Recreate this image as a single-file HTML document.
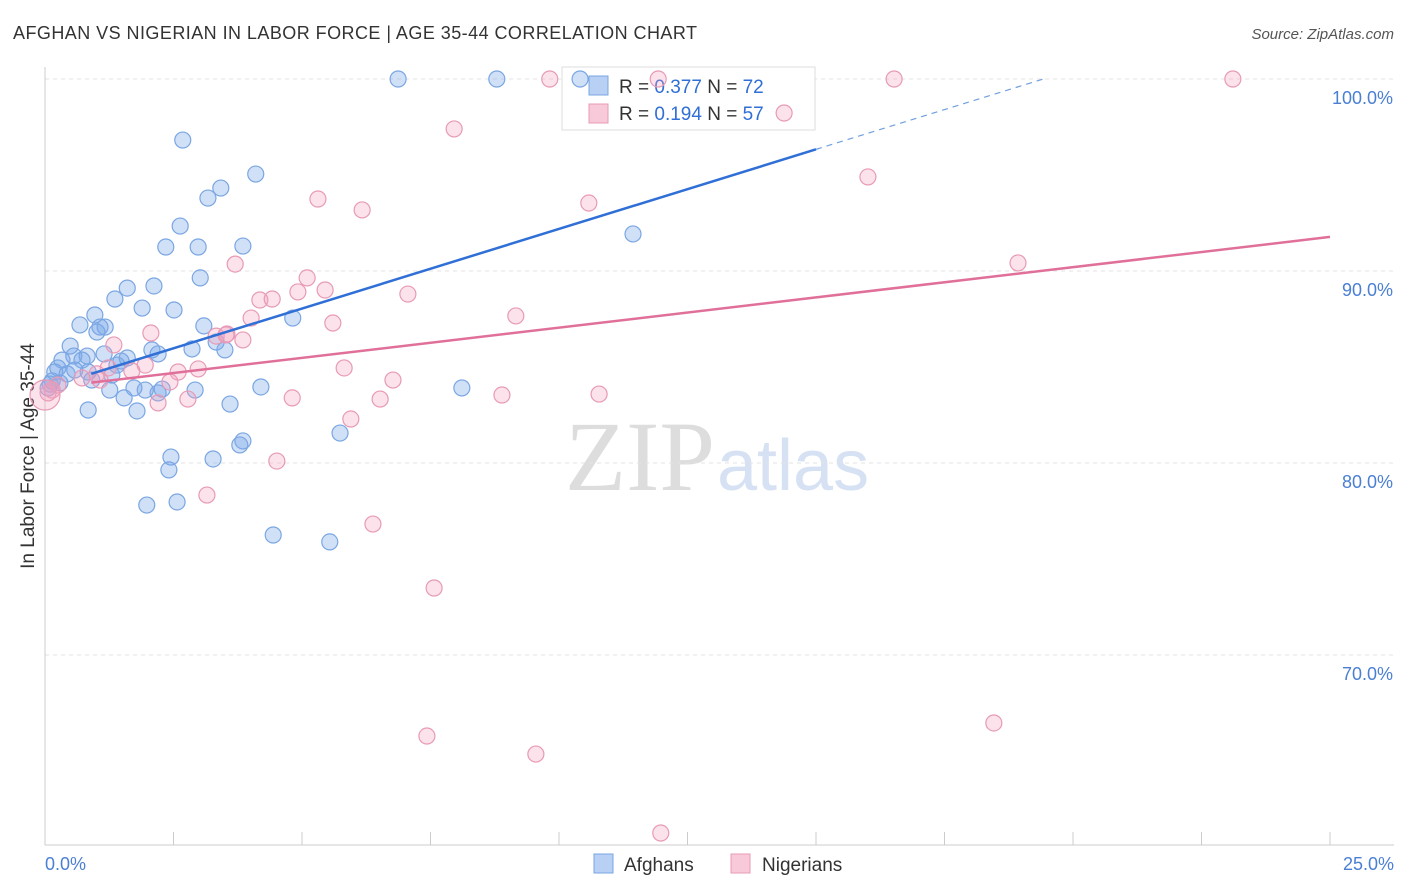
<!DOCTYPE html>
<html><head><meta charset="utf-8"><style>
body{margin:0;background:#fff;font-family:"Liberation Sans",sans-serif;}
svg{display:block}
</style></head><body>
<svg width="1406" height="892" id="chart">
<text x="13" y="39" font-size="18" fill="#333" textLength="684">AFGHAN VS NIGERIAN IN LABOR FORCE | AGE 35-44 CORRELATION CHART</text>
<text x="1394" y="39" font-size="15" fill="#555" font-style="italic" text-anchor="end">Source: ZipAtlas.com</text>
<text x="34" y="456" font-size="19" fill="#333" text-anchor="middle" transform="rotate(-90 34 456)">In Labor Force | Age 35-44</text>
<text x="715" y="490" font-size="100" fill="#ddd" text-anchor="end" font-family="Liberation Serif,serif">ZIP</text>
<text x="717" y="490" font-size="72" fill="#d6e2f3">atlas</text>
<g id="grid"></g>
<g>
<rect x="562" y="67" width="253" height="63" fill="#fff" stroke="#ddd"/>
<rect x="589" y="76" width="19" height="19" fill="#b8d0f3" stroke="#7aa6e3"/>
<text x="619" y="93" font-size="19" fill="#333">R = <tspan fill="#2f6fd6">0.377</tspan>   N = <tspan fill="#2f6fd6">72</tspan></text>
<rect x="589" y="104" width="19" height="19" fill="#f8c9d8" stroke="#e89ab5"/>
<text x="619" y="120" font-size="19" fill="#333">R =  <tspan fill="#2f6fd6">0.194</tspan>   N = <tspan fill="#2f6fd6">57</tspan></text>
</g>
<g id="pts"></g><g id="lines"></g>
<g>
<rect x="594" y="854" width="19" height="19" fill="#b8d0f3" stroke="#7aa6e3"/>
<text x="624" y="871" font-size="19" fill="#333">Afghans</text>
<rect x="731" y="854" width="19" height="19" fill="#f8c9d8" stroke="#e89ab5"/>
<text x="762" y="871" font-size="19" fill="#333">Nigerians</text>
</g>
</svg>
<script>
const yTicks=[100,90,80,70];
const xLabels=["0.0%","25.0%"];
const blueX=[6.87,8.79,10.41,2.68,4.10,3.42,3.17,2.63,2.35,2.98,3.85,11.44,3.02,2.12,1.60,1.36,1.89,2.51,0.97,0.68,1.07,1.17,1.01,3.09,4.82,3.33,3.50,2.86,2.08,2.20,0.49,1.15,0.82,0.56,0.33,0.72,1.60,1.48,1.40,0.25,0.19,0.58,0.43,0.84,1.30,0.91,0.14,0.10,0.29,0.06,1.26,1.73,1.95,2.20,1.54,2.28,2.92,4.20,8.11,0.84,1.79,3.60,5.74,3.85,3.79,3.27,2.45,2.41,1.98,2.57,4.44,5.54];
const blueY=[100,100,100,96.82,95.05,94.32,93.80,92.34,91.25,91.25,91.30,91.93,89.64,89.22,89.11,88.54,88.07,87.97,87.71,87.19,87.08,87.08,86.82,87.14,87.55,86.30,85.89,85.94,85.89,85.68,86.09,85.68,85.57,85.57,85.36,85.36,85.47,85.31,85.10,84.95,84.74,84.84,84.64,84.74,84.58,84.32,84.27,84.11,84.17,83.91,83.80,83.91,83.80,83.65,83.39,83.85,83.80,83.96,83.91,82.76,82.71,83.07,81.56,81.15,80.94,80.21,80.31,79.64,77.81,77.97,76.25,75.89];
const pinkX=[9.82,11.93,16.52,23.11,14.38,7.96,16.01,5.31,10.58,6.17,3.70,18.93,5.10,5.45,4.18,4.42,7.06,4.92,9.16,4.01,5.60,2.06,3.85,3.33,3.54,1.34,5.82,1.95,1.69,2.59,2.98,1.23,1.01,0.72,6.77,0.14,0.06,0.25,4.81,6.52,8.89,10.78,2.78,2.20,5.95,4.51,3.15,6.38,7.57,18.46,7.43,9.55,11.98,2.43,3.52,1.07,0];
const pinkY=[100,100,100,100,98.23,97.40,94.90,93.75,93.54,93.18,90.36,90.42,89.64,89.01,88.49,88.54,88.80,88.91,87.66,87.55,87.29,86.77,86.41,86.61,86.72,86.15,84.95,85.10,84.79,84.74,84.90,84.95,84.64,84.43,84.32,83.80,83.65,84.06,83.39,83.33,83.54,83.59,83.33,83.13,82.29,80.10,78.33,76.82,73.49,66.46,65.78,64.84,60.73,84.22,86.67,84.32,83.54];
const blueTrend=[83.9,0.829];   // intercept, slope
const pinkTrend=[83.9,0.315];
const NS="http://www.w3.org/2000/svg";
const X=v=>45+v/25*1285, Y=v=>79+(100-v)*19.2;
function mk(tag,at,parent){const e=document.createElementNS(NS,tag);for(const k in at)e.setAttribute(k,at[k]);document.getElementById(parent).appendChild(e);return e;}
yTicks.forEach(t=>{
 const l=mk('line',{x1:45,x2:1394,y1:Y(t),y2:Y(t),stroke:'#e3e3e3','stroke-dasharray':'4,4'},'grid');
 
 
 const tx=mk('text',{x:1393,y:Y(t)+25,'font-size':18,fill:'#4a7fd4','text-anchor':'end'},'grid');tx.textContent=t.toFixed(1)+'%';
 
 
});
mk('line',{x1:45,x2:45,y1:67,y2:845,stroke:'#ccc'},'grid');
mk('line',{x1:45,x2:1394,y1:845,y2:845,stroke:'#ccc'},'grid');
for(let i=0;i<=10;i++){mk('line',{x1:X(i*2.5),x2:X(i*2.5),y1:832,y2:845,stroke:'#ccc'},'grid');}
[[0,45,'start'],[25,1394,'end']].forEach((d,i)=>{const t=mk('text',{x:d[1],y:870,'font-size':18,fill:'#4a7fd4','text-anchor':d[2]},'grid');t.textContent=xLabels[i];
 
 });
blueX.forEach((v,i)=>{const c=mk('circle',{cx:X(v),cy:Y(blueY[i]),r:8,fill:'rgba(120,165,232,0.35)',stroke:'#7aa6e3','stroke-width':1.2},'pts');
 
 });
pinkX.forEach((v,i)=>{const c=mk('circle',{cx:X(v),cy:Y(pinkY[i]),r:i==pinkX.length-1?15:8,fill:'rgba(242,160,190,0.3)',stroke:'#e89ab5','stroke-width':1.2},'pts');
 
 });
const bf=x=>blueTrend[0]+blueTrend[1]*x, pf=x=>pinkTrend[0]+pinkTrend[1]*x;
const xEnd=(100-blueTrend[0])/blueTrend[1];
const b1=mk('line',{x1:X(0.9),y1:Y(bf(0.9)),x2:X(15),y2:Y(bf(15)),stroke:'#2f6fd6','stroke-width':2.5},'lines');


const b2=mk('line',{x1:X(15),y1:Y(bf(15)),x2:X(xEnd),y2:Y(100),stroke:'#6f9fe0','stroke-width':1.2,'stroke-dasharray':'6,5'},'lines');


const p1=mk('line',{x1:X(0.9),y1:Y(pf(0.9)),x2:X(25),y2:Y(pf(25)),stroke:'#e0709a','stroke-width':2.5},'lines');


</script>
</body></html>
